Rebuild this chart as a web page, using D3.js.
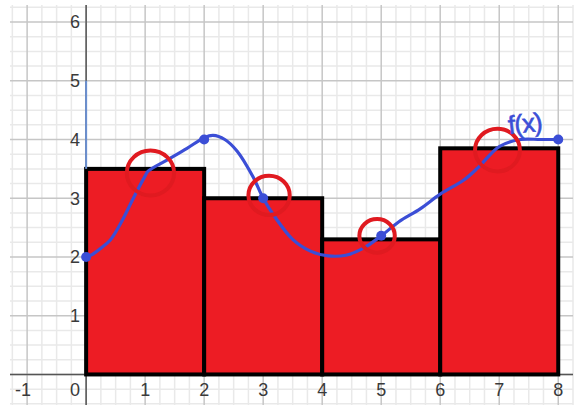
<!DOCTYPE html>
<html>
<head>
<meta charset="utf-8">
<script src="https://cdn.jsdelivr.net/npm/d3@7"></script>
<style>
  body { margin: 0; background: #fff; }
  svg { display: block; }
  text { font-family: "Liberation Sans", Arial, sans-serif; }
</style>
</head>
<body>
<svg id="drawing_region"></svg>
<script>
// bars (left-rectangle style bins)
const binStarts = [0, 2, 4, 6];
const binEnds = [2, 4, 6, 8];
const barHeights = [3.5, 3.0, 2.3, 3.85];

// hand drawn f(x) curve
const curveX = [0, 0.1, 0.25, 0.41, 0.6, 0.8, 1.0, 1.05, 1.37, 1.71, 2.0, 2.15, 2.35, 2.56, 2.83, 3.0, 3.2, 3.5, 3.8, 4.1, 4.4, 4.7, 5.0, 5.3, 5.66, 6.0, 6.4, 6.65, 7.0, 7.36, 7.7, 8.0];
const curveY = [2.0, 2.04, 2.15, 2.29, 2.6, 3.0, 3.38, 3.46, 3.65, 3.85, 4.03, 4.07, 4.0, 3.8, 3.36, 3.0, 2.68, 2.3, 2.1, 2.02, 2.03, 2.15, 2.36, 2.6, 2.82, 3.07, 3.31, 3.53, 3.88, 4.0, 4.0, 4.0];

// marked points on the curve
const dotX = [0, 2, 3, 5, 8];
const dotY = [2, 4, 3, 2.36, 4];

// red hand drawn circles (midpoints)
const circleX = [1.09, 3.1, 4.93, 6.97];
const circleY = [3.43, 3.05, 2.36, 3.82];
const circleR = [0.4, 0.35, 0.3, 0.38];

// ticks
const xTicks = [-1, 0, 1, 2, 3, 4, 5, 6, 7, 8];
const yTicks = [1, 2, 3, 4, 5, 6];

const W = 582, H = 409;
const svg = d3.select('#drawing_region').attr('width', W).attr('height', H);

const area = {left: 10, right: 573, top: 5, bottom: 405};
const x = d3.scaleLinear().domain([-1.29, 8.25]).range([area.left, area.right]);
const y = d3.scaleLinear().domain([-0.52, 6.29]).range([area.bottom, area.top]);

const blue = '#3b4ed6';
const red = '#ed1c24';

// grid
const minorX = d3.range(-5, 34).map(i => i * 0.25).filter(v => v % 1 !== 0);
const minorY = d3.range(-2, 26).map(i => i * 0.25).filter(v => v % 1 !== 0);
const majorX = d3.range(-1, 9);
const majorY = d3.range(0, 7);

const grid = svg.append('g');
grid.selectAll('.mx').data(minorX).enter().append('line')
    .attr('x1', d => x(d)).attr('x2', d => x(d))
    .attr('y1', area.top).attr('y2', area.bottom)
    .attr('stroke', '#e9e9e9').attr('stroke-width', 1.5);
grid.selectAll('.my').data(minorY).enter().append('line')
    .attr('y1', d => y(d)).attr('y2', d => y(d))
    .attr('x1', area.left).attr('x2', area.right)
    .attr('stroke', '#e9e9e9').attr('stroke-width', 1.5);
grid.selectAll('.Mx').data(majorX).enter().append('line')
    .attr('x1', d => x(d)).attr('x2', d => x(d))
    .attr('y1', area.top).attr('y2', area.bottom)
    .attr('stroke', '#c6c6c6').attr('stroke-width', 1.5);
grid.selectAll('.My').data(majorY).enter().append('line')
    .attr('y1', d => y(d)).attr('y2', d => y(d))
    .attr('x1', area.left).attr('x2', area.right)
    .attr('stroke', '#c6c6c6').attr('stroke-width', 1.5);

// axes
svg.append('line')
    .attr('x1', area.left).attr('x2', area.right).attr('y1', y(0)).attr('y2', y(0))
    .attr('stroke', '#555').attr('stroke-width', 1.5);
svg.append('line')
    .attr('x1', x(0)).attr('x2', x(0)).attr('y1', area.top).attr('y2', area.bottom)
    .attr('stroke', '#555').attr('stroke-width', 1.5);

// tick labels
svg.selectAll('.xl').data(xTicks).enter().append('text')
    .attr('x', d => d === 0 ? x(0) - 11 : (d < 0 ? x(d) - 4 : x(d)))
    .attr('y', y(0) + 22)
    .attr('text-anchor', 'middle')
    .attr('font-size', 18)
    .attr('fill', '#3a3a3a')
    .text(d => d < 0 ? '-' + Math.abs(d) : d);
svg.selectAll('.yl').data(yTicks).enter().append('text')
    .attr('x', x(0) - 6)
    .attr('y', d => y(d))
    .attr('dy', '0.35em')
    .attr('text-anchor', 'end')
    .attr('font-size', 18)
    .attr('fill', '#3a3a3a')
    .text(d => d);

// bars
svg.selectAll('.bar').data(barHeights).enter().append('rect')
    .attr('x', (d, i) => x(binStarts[i]))
    .attr('width', (d, i) => x(binEnds[i]) - x(binStarts[i]))
    .attr('y', d => y(d))
    .attr('height', d => y(0) - y(d))
    .attr('fill', red)
    .attr('stroke', '#000')
    .attr('stroke-width', 4);

// blue segment on the y axis
svg.append('line')
    .attr('x1', x(0)).attr('x2', x(0))
    .attr('y1', y(5)).attr('y2', y(barHeights[0]))
    .attr('stroke', '#6a8fd0').attr('stroke-width', 2);

// curve
const pts = curveX.map((v, i) => [v, curveY[i]]);
const line = d3.line().x(d => x(d[0])).y(d => y(d[1])).curve(d3.curveCatmullRom);
svg.append('path')
    .attr('d', line(pts))
    .attr('fill', 'none')
    .attr('stroke', blue)
    .attr('stroke-width', 3.2)
    .attr('stroke-linecap', 'round')
    .attr('stroke-linejoin', 'round');

svg.selectAll('.dot').data(dotX).enter().append('circle')
    .attr('cx', d => x(d))
    .attr('cy', (d, i) => y(dotY[i]))
    .attr('r', 5)
    .attr('fill', blue);

// red circles
svg.selectAll('.ring').data(circleX).enter().append('ellipse')
    .attr('cx', d => x(d))
    .attr('cy', (d, i) => y(circleY[i]))
    .attr('rx', (d, i) => x(circleR[i]) - x(0))
    .attr('ry', (d, i) => (x(circleR[i]) - x(0)) * 0.95)
    .attr('fill', 'none')
    .attr('stroke', '#e01a20')
    .attr('stroke-width', 4);

// f(x) label
svg.append('text')
    .attr('x', x(7.45))
    .attr('y', y(4.12))
    .attr('text-anchor', 'middle')
    .attr('font-family', 'DejaVu Sans')
    .attr('font-size', 26)
    .attr('letter-spacing', -1)
    .attr('fill', blue)
    .attr('stroke', blue)
    .attr('stroke-width', 0.6)
    .attr('transform', `rotate(-6, ${x(7.45)}, ${y(4.12)})`)
    .text('f(x)');
</script>
</body>
</html>
